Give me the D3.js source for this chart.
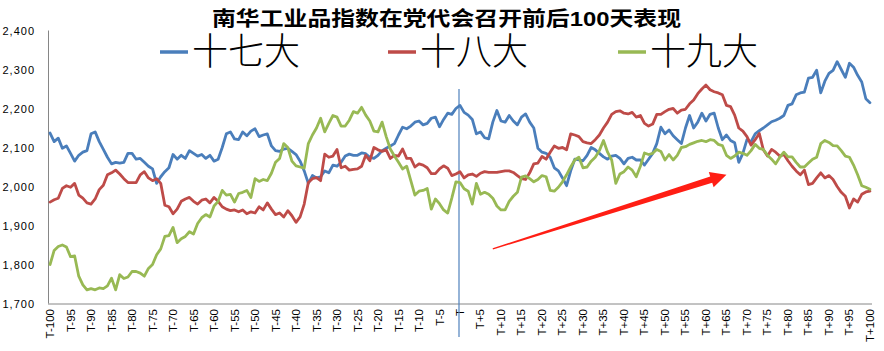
<!DOCTYPE html>
<html>
<head>
<meta charset="utf-8">
<script src="https://cdn.jsdelivr.net/npm/d3@7"></script>
<style>
  body { margin: 0; background: #fff; }
  svg { display: block; }
</style>
</head>
<body>
<svg id="chart"></svg>
<script>
const title = "南华工业品指数在党代会召开前后100天表现";

// days T-100 .. T+100
const days = d3.range(-100, 101).map((d) => (d === 0 ? "T" : d < 0 ? "T" + d : "T+" + d));
const yTicks = [1700, 1800, 1900, 2000, 2100, 2200, 2300, 2400];

const names = ["十七大", "十八大", "十九大"];
const colors = ["#4a7ebb", "#be4b48", "#98b954"];

const s17 = [
  2137, 2115, 2124, 2098, 2104, 2085, 2065, 2080, 2088, 2092, 2135, 2140, 2115, 2095, 2075, 2058, 2062, 2060, 2062, 2085,
  2085, 2070, 2072, 2062, 2052, 2045, 2008, 2025, 2038, 2048, 2082, 2070, 2080, 2072,
  2092, 2085, 2078, 2082, 2072, 2080, 2065, 2070, 2100, 2135, 2140, 2122, 2120, 2140, 2130, 2142, 2148, 2128, 2132, 2135,
  2104, 2092, 2090, 2096, 2098, 2090, 2082, 2065, 2040, 2008, 2028, 2022, 2025, 2040,
  2035, 2055, 2052, 2062, 2078, 2083, 2080, 2080, 2086, 2084, 2075, 2072, 2080, 2092, 2098, 2104, 2110, 2132, 2152, 2148,
  2155, 2165, 2168, 2158, 2162, 2175, 2178, 2153, 2172, 2188, 2185, 2200, 2208,
  2190, 2183, 2172, 2135, 2140, 2125, 2122, 2165, 2195, 2168, 2165, 2182, 2168, 2158, 2178, 2186, 2165, 2150, 2098, 2088,
  2085, 2075, 2048, 2040, 2022, 2002, 2040, 2070, 2068, 2066, 2080, 2100, 2094, 2085,
  2076, 2070, 2078, 2080, 2072, 2058, 2072, 2075, 2068, 2068, 2055, 2070, 2085, 2110, 2152, 2135, 2145, 2130, 2120, 2110,
  2150, 2182, 2150, 2165, 2188, 2168, 2185, 2188, 2150, 2120, 2132, 2118, 2112, 2062,
  2085, 2120, 2115, 2135, 2143, 2150, 2158, 2166, 2170, 2175, 2182, 2208, 2212, 2235, 2240, 2242, 2278, 2280, 2298, 2240,
  2270, 2290, 2298, 2320, 2300, 2280, 2316, 2306, 2285, 2268, 2225, 2215
];
const s18 = [
  1960, 1966, 1970, 1995, 2002, 1998, 2008, 1978, 1970, 1958, 1955, 1968, 1992, 2003, 2030, 2035, 2042, 2032, 2020, 2010,
  2010, 2010, 2030, 2038, 2022, 2015, 2020, 2008, 1952, 1948, 1930, 1942, 1962, 1968,
  1972, 1962, 1955, 1965, 1968, 1958, 1972, 1962, 1948, 1942, 1938, 1940, 1935, 1940, 1930, 1935, 1932, 1948, 1940, 1958,
  1942, 1928, 1932, 1922, 1938, 1925, 1908, 1922, 1955, 2010, 2020, 2023, 2015, 2083,
  2075, 2078, 2095, 2048, 2052, 2042, 2044, 2045, 2052, 2080, 2066, 2100, 2094, 2090, 2094, 2072, 2080, 2078, 2096, 2072,
  2072, 2050, 2058, 2055, 2048, 2033, 2033, 2045, 2053, 2047, 2028, 2032, 2038,
  2022, 2030, 2032, 2026, 2034, 2038, 2036, 2036, 2036, 2038, 2040, 2040, 2036, 2028, 2020, 2018, 2035, 2058, 2060, 2077,
  2070, 2088, 2104, 2098, 2100, 2094, 2135, 2132, 2128, 2115, 2112, 2110, 2120, 2132,
  2150, 2165, 2185, 2192, 2194, 2188, 2186, 2190, 2178, 2182, 2162, 2155, 2160, 2185, 2185, 2192, 2198, 2200, 2188, 2196,
  2198, 2212, 2222, 2238, 2250, 2260, 2248, 2243, 2240, 2235, 2208, 2205, 2183, 2150,
  2142, 2128, 2106, 2120, 2136, 2094, 2078, 2095, 2088, 2078, 2082, 2066, 2052, 2040, 2030, 2042, 2005, 2008, 2022, 2035,
  2022, 2028, 2018, 2000, 1985, 1975, 1945, 1968, 1960, 1980, 1986, 1988
];
const s19 = [
  1800, 1836, 1846, 1850, 1845, 1820, 1822, 1770, 1748, 1735, 1738, 1735, 1740, 1738, 1745, 1765, 1735, 1774, 1764, 1768,
  1782, 1782, 1778, 1770, 1790, 1800, 1825, 1840, 1872, 1874, 1895, 1856, 1866, 1872,
  1884, 1878, 1905, 1920, 1928, 1922, 1950, 1962, 1990, 1978, 1980, 1960, 1982, 1985, 1990, 1972, 2020, 2013, 2018, 2015,
  2034, 2062, 2072, 2110, 2100, 2065, 2053, 2050, 2047, 2110, 2132, 2150, 2175, 2140,
  2162, 2182, 2178, 2155, 2155, 2170, 2192, 2188, 2203, 2183, 2168, 2142, 2140, 2165, 2128, 2096, 2078, 2062, 2045, 2052,
  2015, 1978, 1988, 1990, 1995, 1942, 1968, 1956, 1940, 1932, 1970, 2012, 2010,
  1994, 1988, 1955, 2008, 1980, 1985, 1980, 1970, 1950, 1940, 1940, 1962, 1975, 1985, 2024, 2027, 2020, 2012, 2018, 2028,
  2025, 1990, 1988, 1998, 2012, 2030, 2050, 2068, 2075, 2048, 2050, 2065, 2075, 2092,
  2118, 2088, 2068, 2008, 2032, 2038, 2050, 2042, 2025, 2052, 2086, 2082, 2085, 2095, 2090, 2068, 2082, 2068, 2080, 2100,
  2102, 2108, 2112, 2116, 2118, 2115, 2120, 2118, 2108, 2105, 2080, 2072, 2078, 2088,
  2085, 2080, 2092, 2108, 2098, 2095, 2080, 2070, 2058, 2075, 2088, 2076, 2076, 2062, 2050, 2050, 2060, 2070, 2075, 2110,
  2118, 2113, 2105, 2104, 2092, 2078, 2075, 2055, 2030, 2002, 1998, 1993
];
const series = [s17, s18, s19];

// red arrow annotation: from (day, value) to (day, value)
const arrowFrom = ["T+8", 1840];
const arrowTo = ["T+65", 2030];

const width = 884, height = 351;
const svg = d3.select("#chart").attr("width", width).attr("height", height);

const x = d3.scalePoint().domain(days).range([48, 872]).padding(0.5);
const y = d3.scaleLinear().domain([1700, 2400]).range([303.5, 30.5]);

// axes
const axisColor = "#868686";
svg.append("line")
  .attr("x1", 48.5).attr("x2", 48.5)
  .attr("y1", y(2400)).attr("y2", y(1700))
  .attr("stroke", axisColor);
svg.append("line")
  .attr("x1", 48).attr("x2", 872)
  .attr("y1", y(1700) + 0.5).attr("y2", y(1700) + 0.5)
  .attr("stroke", axisColor);

svg.append("g")
  .selectAll("text")
  .data(yTicks)
  .join("text")
  .attr("x", 35)
  .attr("y", (d) => y(d) + 4)
  .attr("text-anchor", "end")
  .attr("font-family", "Liberation Sans, Arial, sans-serif")
  .attr("font-size", 11)
  .attr("letter-spacing", 1)
  .attr("fill", "#000")
  .text((d) => d3.format(",")(d));

svg.append("g")
  .selectAll("text")
  .data(days.filter((d, i) => i % 5 === 0))
  .join("text")
  .attr("transform", (d) => "translate(" + (x(d) + 4) + "," + 309 + ") rotate(-90)")
  .attr("text-anchor", "end")
  .attr("font-family", "Liberation Sans, Arial, sans-serif")
  .attr("font-size", 11.5)
  .attr("fill", "#000")
  .text((d) => d);

// vertical marker at T
svg.append("line")
  .attr("x1", x("T") - 1).attr("x2", x("T") - 1)
  .attr("y1", y(2250)).attr("y2", 337)
  .attr("stroke", "#4f81bd")
  .attr("stroke-width", 1.2);

// series lines
const line = d3.line()
  .x((d, i) => x(days[i]))
  .y((d) => y(d));

series.forEach((s, k) => {
  svg.append("path")
    .datum(s)
    .attr("fill", "none")
    .attr("stroke", colors[k])
    .attr("stroke-width", 2.8)
    .attr("stroke-linejoin", "round")
    .attr("stroke-linecap", "round")
    .attr("d", line);
});

// arrow (tapered shaft + head)
const ax0 = x(arrowFrom[0]), ay0 = y(arrowFrom[1]);
const ax1 = x(arrowTo[0]), ay1 = y(arrowTo[1]);
const len = Math.hypot(ax1 - ax0, ay1 - ay0);
const ux = (ax1 - ax0) / len, uy = (ay1 - ay0) / len;
const px = -uy, py = ux;
const headLen = 16, headW = 8, shaftW = 3.3;
const bx = ax1 - ux * headLen, by = ay1 - uy * headLen;
const arrowPts = [
  [ax0 + px * 0.6, ay0 + py * 0.6],
  [bx + px * shaftW, by + py * shaftW],
  [bx + px * headW, by + py * headW],
  [ax1, ay1],
  [bx - px * headW, by - py * headW],
  [bx - px * shaftW, by - py * shaftW],
  [ax0 - px * 0.6, ay0 - py * 0.6]
];
svg.append("path")
  .attr("d", "M" + arrowPts.map((p) => p.join(",")).join("L") + "Z")
  .attr("fill", "#ff1e14");

// title
svg.append("text")
  .attr("x", 212)
  .attr("y", 26)
  .attr("font-family", "Liberation Sans, Noto Sans CJK SC, sans-serif")
  .attr("font-weight", "bold")
  .attr("font-size", 20)
  .attr("textLength", 469)
  .attr("lengthAdjust", "spacingAndGlyphs")
  .attr("fill", "#000")
  .text(title);

// legend
const legendX = [160, 388, 618];
names.forEach((n, k) => {
  svg.append("line")
    .attr("x1", legendX[k]).attr("x2", legendX[k] + 28)
    .attr("y1", 52).attr("y2", 52)
    .attr("stroke", colors[k])
    .attr("stroke-width", 3.5);
  svg.append("text")
    .attr("x", legendX[k] + 32)
    .attr("y", 65)
    .attr("font-family", "Liberation Serif, Noto Sans CJK SC, serif")
    .attr("font-weight", 300)
    .attr("font-size", 37)
    .attr("textLength", 108)
    .attr("lengthAdjust", "spacingAndGlyphs")
    .attr("fill", "#000")
    .text(n);
});
</script>
</body>
</html>
